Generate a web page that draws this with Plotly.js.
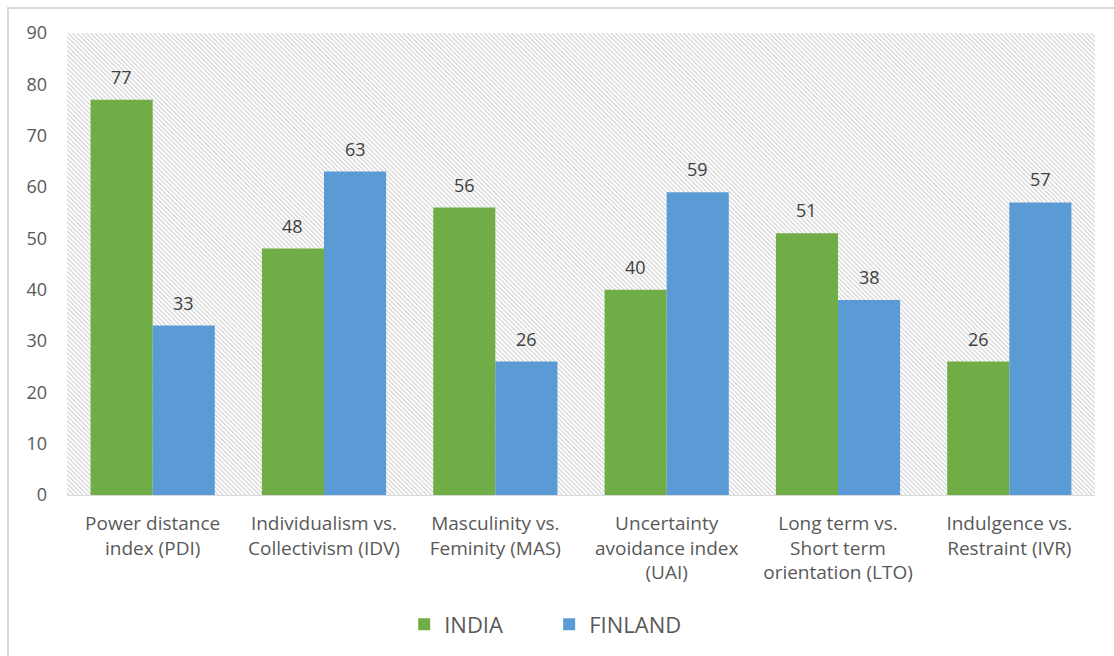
<!DOCTYPE html>
<html>
<head>
<meta charset="utf-8">
<script src="https://cdn.plot.ly/plotly-3.0.1.min.js"></script>
<style>html,body{margin:0;padding:0;background:#fff;}#chart{width:1114px;height:656px;}</style>
</head>
<body>
<div id="chart"></div>
<script>
const categories = [
  "Power distance<br>index (PDI)",
  "Individualism vs.<br>Collectivism (IDV)",
  "Masculinity vs.<br>Feminity (MAS)",
  "Uncertainty<br>avoidance index<br>(UAI)",
  "Long term vs.<br>Short term<br>orientation (LTO)",
  "Indulgence vs.<br>Restraint (IVR)"
];
const india = [77, 48, 56, 40, 51, 26];
const finland = [33, 63, 26, 59, 38, 57];
const yTicks = [0, 10, 20, 30, 40, 50, 60, 70, 80, 90];

const W = 1114, H = 656;
const M = {l: 67, r: 19, t: 33, b: 160};
const pw = W - M.l - M.r, ph = H - M.t - M.b;
const BARGAP = 0.275;
const barW = (pw / categories.length) * (1 - BARGAP) / 2;

const FONT = '"Open Sans", Lato, sans-serif';

const hatch = '<svg xmlns="http://www.w3.org/2000/svg" width="' + pw + '" height="' + ph + '">' +
  '<defs><pattern id="h" patternUnits="userSpaceOnUse" width="3.2" height="3.2" patternTransform="rotate(-45)">' +
  '<rect x="0" y="0" width="1.2" height="3.2" fill="#d4d4d4"/></pattern></defs>' +
  '<rect width="100%" height="100%" fill="url(#h)"/></svg>';
const hatchUrl = 'data:image/svg+xml;base64,' + btoa(hatch);

const labelFont = {family: FONT, size: 18, color: '#404040'};

const traces = [
  {type: 'bar', name: 'INDIA', x: categories, y: india, marker: {color: '#70AD47'}, hoverinfo: 'none'},
  {type: 'bar', name: 'FINLAND', x: categories, y: finland, marker: {color: '#5B9BD5'}, hoverinfo: 'none'}
];

const annotations = [];
categories.forEach((c, i) => {
  annotations.push({x: c, y: india[i], xref: 'x', yref: 'y', text: String(india[i]), showarrow: false,
    xshift: -barW / 2, yshift: 23, yanchor: 'middle', xanchor: 'center', font: labelFont});
  annotations.push({x: c, y: finland[i], xref: 'x', yref: 'y', text: String(finland[i]), showarrow: false,
    xshift: barW / 2, yshift: 23, yanchor: 'middle', xanchor: 'center', font: labelFont});
});

const layout = {
  width: W, height: H,
  margin: M,
  paper_bgcolor: '#ffffff',
  plot_bgcolor: 'rgba(0,0,0,0)',
  barmode: 'group',
  bargap: BARGAP,
  bargroupgap: 0,
  font: {family: FONT, color: '#595959'},
  showlegend: true,
  legend: {orientation: 'h', x: 0.328, xanchor: 'left', y: -0.2775, yanchor: 'middle',
           font: {size: 22, color: '#595959'}, itemwidth: 30, entrywidth: 100, entrywidthmode: 'pixels'},
  xaxis: {type: 'category', showgrid: false, zeroline: false, showline: true, linecolor: '#d9d9d9', linewidth: 1,
          ticks: '', tickfont: {size: 19, color: '#595959'}, ticklabelstandoff: 11, fixedrange: true},
  yaxis: {range: [0, 90], tickvals: yTicks, ticktext: yTicks.map(String), showgrid: false, zeroline: false,
          showline: false, ticks: '', tickfont: {size: 18, color: '#595959'}, ticklabelstandoff: 19, fixedrange: true},
  annotations: annotations,
  images: [{source: hatchUrl, xref: 'paper', yref: 'paper', x: 0, y: 1, sizex: 1, sizey: 1,
            xanchor: 'left', yanchor: 'top', sizing: 'stretch', layer: 'below'}],
  shapes: [{type: 'rect', xref: 'paper', yref: 'paper',
            x0: (8 - M.l) / pw, x1: (W + 20 - M.l) / pw,
            y0: -(M.b + 20) / ph, y1: 1 + (M.t - 8) / ph,
            line: {color: '#d9d9d9', width: 2}, fillcolor: 'rgba(0,0,0,0)', layer: 'below'}]
};

Plotly.newPlot('chart', traces, layout, {staticPlot: true, displayModeBar: false});
</script>
</body>
</html>
